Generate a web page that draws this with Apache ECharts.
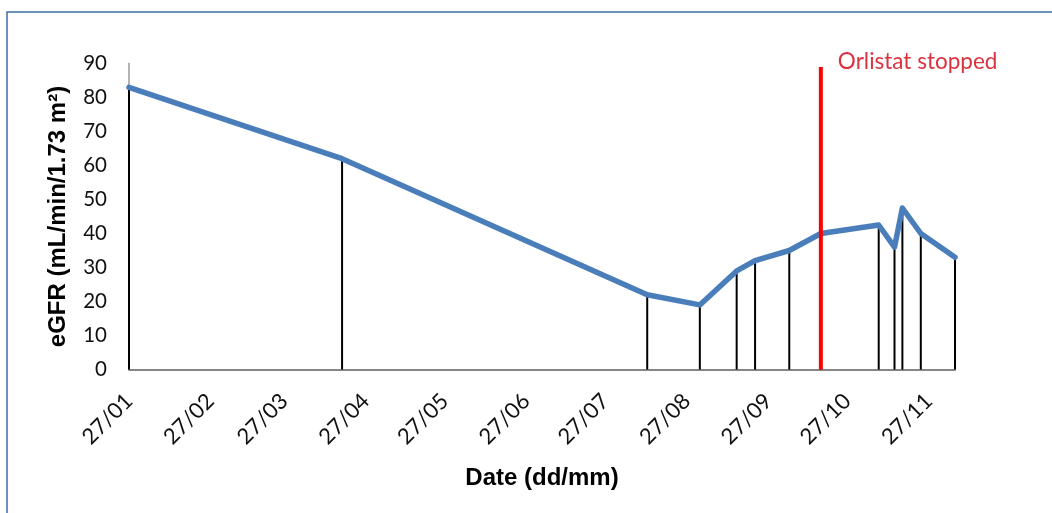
<!DOCTYPE html>
<html>
<head>
<meta charset="utf-8">
<script src="https://cdn.jsdelivr.net/npm/echarts@6/dist/echarts.min.js"></script>
<style>
html,body{margin:0;padding:0;background:#fff;}
#chart{width:1052px;height:513px;}
</style>
</head>
<body>
<div id="chart"></div>
<script>
// Measurement dates (year assumed non-leap) and eGFR values
var dates = ['2013-01-27','2013-04-18','2013-08-12','2013-09-01','2013-09-15','2013-09-22','2013-10-05','2013-10-17','2013-11-08','2013-11-14','2013-11-17','2013-11-24','2013-12-07'];
var egfr  = [83, 62, 22, 19, 29, 32, 35, 40, 42.5, 36, 47.5, 40, 33];
// x-axis tick labels (27th of each month)
var tickDates  = ['2013-01-27','2013-02-27','2013-03-27','2013-04-27','2013-05-27','2013-06-27','2013-07-27','2013-08-27','2013-09-27','2013-10-27','2013-11-27'];
var tickLabels = ['27/01','27/02','27/03','27/04','27/05','27/06','27/07','27/08','27/09','27/10','27/11'];
// Orlistat stopped marker
var stopDate = '2013-10-17';
var stopLineTop = 89;
var stopText = 'Orlistat stopped';
var yMin = 0, yMax = 90, yStep = 10;

// convert dates to day numbers counted from the first date
function dayNum(s){var p=s.split('-');return Math.round((Date.UTC(+p[0],+p[1]-1,+p[2]) - Date.UTC(2013,0,27))/86400000);}
var tickDays = tickDates.map(dayNum);
var points = dates.map(function(d,i){return [dayNum(d), egfr[i]];});

var chart = echarts.init(document.getElementById('chart'), null, {renderer:'canvas'});
var font = 'Lato, "Open Sans", sans-serif';
var boldFont = '"Liberation Sans", Arial, sans-serif';
chart.setOption({
  animation:false,
  backgroundColor:'#fff',
  graphic:[{type:'rect', shape:{x:7,y:12,width:1200,height:700}, style:{fill:'none', stroke:'#3d6fa6', lineWidth:1.5}, silent:true, z:-10}],
  grid:{left:129, right:97, top:63.5, bottom:143.5},
  xAxis:{
    type:'value',
    min:dayNum(dates[0]), max:dayNum(dates[dates.length-1]),
    name:'Date (dd/mm)', nameLocation:'middle', nameGap:97,
    nameTextStyle:{fontFamily:boldFont, fontWeight:'bold', fontSize:24, color:'#000'},
    axisLine:{show:true, lineStyle:{color:'#868686', width:2}},
    axisTick:{show:false},
    splitLine:{show:false},
    axisLabel:{
      customValues:tickDays, rotate:45, margin:28, fontSize:22, color:'#111', fontFamily:font,
      formatter:function(v){var i=tickDays.indexOf(Math.round(v));return i>=0?tickLabels[i]:'';},
      hideOverlap:false
    }
  },
  yAxis:{
    type:'value', min:yMin, max:yMax, interval:yStep,
    name:'eGFR (mL/min/1.73 m²)', nameLocation:'middle', nameGap:59, nameRotate:90,
    nameTextStyle:{fontFamily:boldFont, fontWeight:'bold', fontSize:24, color:'#000'},
    axisLine:{show:true, lineStyle:{color:'#9a9a9a', width:1.5}},
    axisTick:{show:false},
    splitLine:{show:false},
    axisLabel:{fontSize:20.5, color:'#111', margin:22, fontFamily:font}
  },
  series:[
    {type:'bar', data:points, barWidth:2, itemStyle:{color:'#000'}, z:2, silent:true},
    {type:'line', data:points, symbol:'none', z:3,
      lineStyle:{color:'#4a7ebb', width:5.5, join:'round', cap:'round'}},
    {type:'line', data:[[dayNum(stopDate),0],[dayNum(stopDate),stopLineTop]], symbol:'none', z:4,
      lineStyle:{color:'#ff0000', width:4},
      endLabel:{show:true, formatter:stopText, color:'#d9333f', fontSize:22.5, fontFamily:font, offset:[9,-5]}}
  ]
});
</script>
</body>
</html>
